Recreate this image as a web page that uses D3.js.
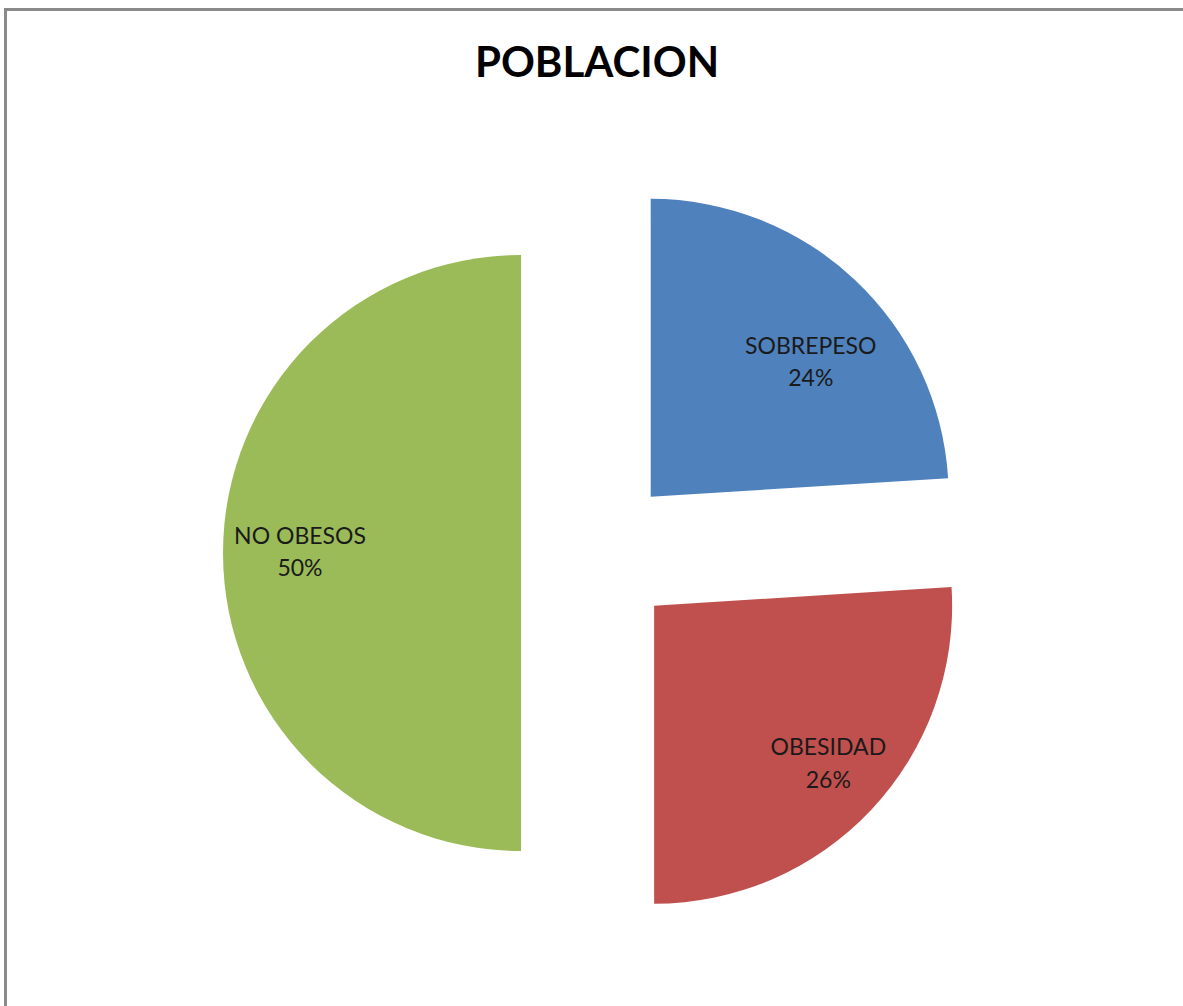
<!DOCTYPE html>
<html>
<head>
<meta charset="utf-8">
<script src="https://cdn.jsdelivr.net/npm/d3@7"></script>
<style>
  html, body { margin: 0; padding: 0; background: #fff; }
  svg { display: block; }
</style>
</head>
<body>
<svg id="chart" width="1183" height="1006"></svg>
<script>
// Population breakdown by weight category (percent)
const categories = ["SOBREPESO", "OBESIDAD", "NO OBESOS"];
const values = [24, 26, 50];
const colors = ["#4F81BD", "#C0504D", "#9BBB59"];
const title = "POBLACION";

const svg = d3.select("#chart");
const W = 1183, H = 1006;

// chart frame (runs past the right and bottom edges)
svg.append("rect")
  .attr("x", 5.5).attr("y", 9.5)
  .attr("width", W + 20).attr("height", H + 20)
  .attr("fill", "#fff")
  .attr("stroke", "#8a8a8a")
  .attr("stroke-width", 3);

svg.append("text")
  .attr("x", 597).attr("y", 77)
  .attr("text-anchor", "middle")
  .attr("font-family", "Lato, 'Open Sans', sans-serif")
  .attr("font-weight", "bold")
  .attr("font-size", 42)
  .attr("fill", "#000")
  .text(title);

const cx = 598, cy = 553;
const radius = 298;
const explode = 77;

const pie = d3.pie().sort(null).value(d => d.v);
const arcs = pie(categories.map((c, i) => ({ name: c, v: values[i], color: colors[i] })));

const arc = d3.arc().innerRadius(0).outerRadius(radius);
const labelArc = d3.arc().innerRadius(228).outerRadius(228);
// small per-slice label adjustments (best-fit placement)
const labelShift = [[4, 27], [8, -3], [7, -6]];

const g = svg.append("g").attr("transform", `translate(${cx},${cy})`);

const slice = g.selectAll("g.slice")
  .data(arcs)
  .join("g")
  .attr("class", "slice")
  .attr("transform", d => {
    const mid = (d.startAngle + d.endAngle) / 2;
    return `translate(${explode * Math.sin(mid)},${-explode * Math.cos(mid)})`;
  });

slice.append("path")
  .attr("d", arc)
  .attr("fill", d => d.data.color);

const lbl = slice.append("text")
  .attr("transform", (d, i) => {
    const [x, y] = labelArc.centroid(d);
    return `translate(${x + labelShift[i][0]},${y + labelShift[i][1]})`;
  })
  .attr("text-anchor", "middle")
  .attr("font-family", "Lato, 'Open Sans', sans-serif")
  .attr("font-size", 23)
  .attr("fill", "#1a1a1a");

lbl.append("tspan").attr("x", 0).attr("dy", "-0.15em").text(d => d.data.name);
lbl.append("tspan").attr("x", 0).attr("dy", "1.4em").text(d => d.data.v + "%");
</script>
</body>
</html>
